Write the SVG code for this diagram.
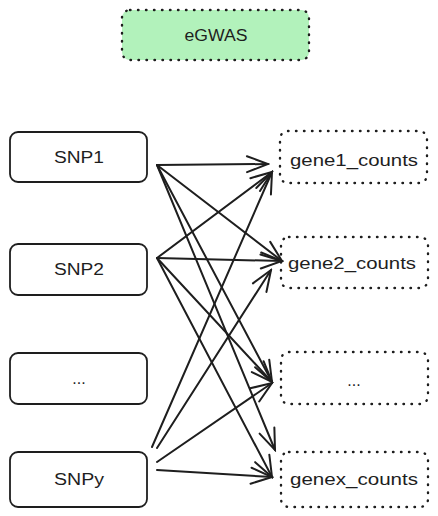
<svg xmlns="http://www.w3.org/2000/svg" width="438" height="516" viewBox="0 0 438 516">
<defs>
<style>
.solid{fill:#ffffff;stroke:#1e1e1e;stroke-width:1.8;}
.dot{fill:#ffffff;stroke:#1e1e1e;stroke-width:2.4;stroke-linecap:round;stroke-dasharray:0.5 7.5;}
.green{fill:#b2f2bb;}
.lbl{font-family:"Liberation Sans","DejaVu Sans",sans-serif;font-size:16px;fill:#1e1e1e;text-anchor:middle;dominant-baseline:central;}
.edge{fill:none;stroke:#1e1e1e;stroke-width:2;stroke-linecap:round;}
</style>
<marker id="arr" viewBox="-24 -12 26 24" refX="0" refY="0" markerWidth="26" markerHeight="24" markerUnits="userSpaceOnUse" orient="auto">
<path d="M-21,-8 L0,0 L-21,8" fill="none" stroke="#1e1e1e" stroke-width="2" stroke-linecap="round"/>
</marker>
</defs>
<g id="eGWAS">
<rect class="dot green" x="122" y="10" width="187" height="50" rx="8"/>
<text class="lbl" x="216" y="35" textLength="63" lengthAdjust="spacingAndGlyphs">eGWAS</text>
</g>
<g id="SNP1">
<rect class="solid" x="10" y="132" width="137" height="50" rx="8"/>
<text class="lbl" x="79" y="157" textLength="50" lengthAdjust="spacingAndGlyphs">SNP1</text>
</g>
<g id="SNP2">
<rect class="solid" x="10" y="244" width="137" height="51" rx="8"/>
<text class="lbl" x="79" y="269" textLength="50" lengthAdjust="spacingAndGlyphs">SNP2</text>
</g>
<g id="SNPdots">
<rect class="solid" x="10" y="353" width="137" height="51" rx="8"/>
<text class="lbl" x="79" y="378">...</text>
</g>
<g id="SNPy">
<rect class="solid" x="10" y="452" width="137" height="55" rx="8"/>
<text class="lbl" x="79" y="479" textLength="50" lengthAdjust="spacingAndGlyphs">SNPy</text>
</g>
<g id="gene1_counts">
<rect class="dot" x="280" y="131" width="147" height="52" rx="8"/>
<text class="lbl" x="354" y="160" textLength="128" lengthAdjust="spacingAndGlyphs">gene1_counts</text>
</g>
<g id="gene2_counts">
<rect class="dot" x="281" y="237" width="147" height="51" rx="8"/>
<text class="lbl" x="352" y="263" textLength="128" lengthAdjust="spacingAndGlyphs">gene2_counts</text>
</g>
<g id="genedots">
<rect class="dot" x="281" y="352" width="147" height="52" rx="8"/>
<text class="lbl" x="354" y="380">...</text>
</g>
<g id="genex_counts">
<rect class="dot" x="281" y="452" width="147" height="55" rx="8"/>
<text class="lbl" x="354" y="479" textLength="128" lengthAdjust="spacingAndGlyphs">genex_counts</text>
</g>
<g id="connectors">
<path class="edge" marker-end="url(#arr)" d="M157,165 L268,164"/>
<path class="edge" marker-end="url(#arr)" d="M157,165 L282,261"/>
<path class="edge" marker-end="url(#arr)" d="M157,165 L272,382"/>
<path class="edge" marker-end="url(#arr)" d="M157,165 L275,450"/>
<path class="edge" marker-end="url(#arr)" d="M157,258 L272,172"/>
<path class="edge" marker-end="url(#arr)" d="M157,258 L282,261"/>
<path class="edge" marker-end="url(#arr)" d="M157,258 L272,382"/>
<path class="edge" marker-end="url(#arr)" d="M157,258 L272,477"/>
<path class="edge" marker-end="url(#arr)" d="M152,447 L272,172"/>
<path class="edge" marker-end="url(#arr)" d="M157,448 L271,270"/>
<path class="edge" marker-end="url(#arr)" d="M157,462 L272,383"/>
<path class="edge" marker-end="url(#arr)" d="M157,470 L272,477"/>
</g>
</svg>
